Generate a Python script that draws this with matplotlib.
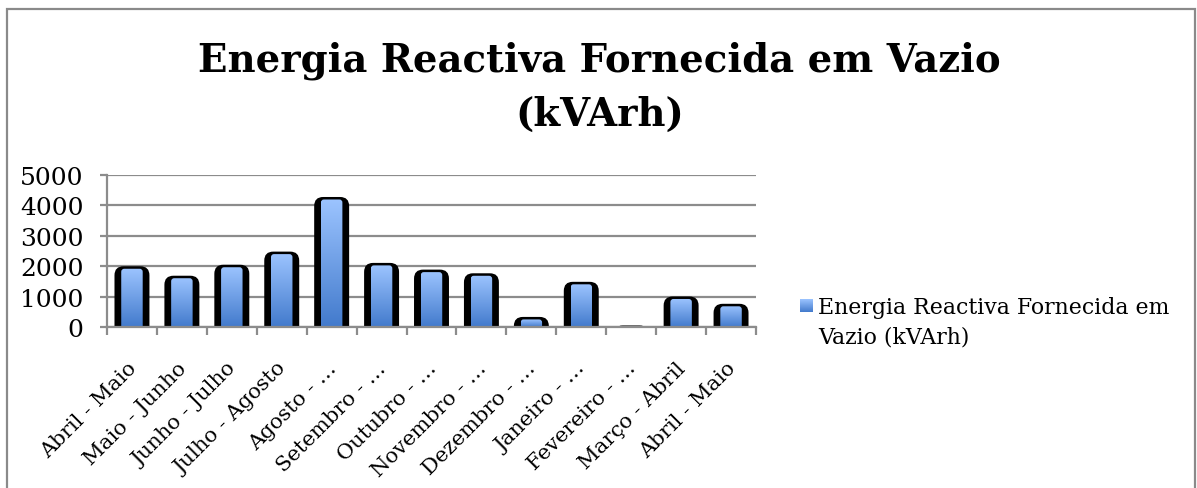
import numpy as np
import matplotlib
matplotlib.use("Agg")
import matplotlib.pyplot as plt
from matplotlib.patches import FancyBboxPatch, Rectangle
from matplotlib.transforms import ScaledTranslation

categories = ["Abril - Maio", "Maio - Junho", "Junho - Julho", "Julho - Agosto",
              "Agosto - …", "Setembro - …", "Outubro - …", "Novembro - …",
              "Dezembro - …", "Janeiro - …", "Fevereiro - …", "Março - Abril",
              "Abril - Maio"]
values = [2000, 1690, 2050, 2480, 4270, 2110, 1890, 1770, 340, 1490, 60, 1010, 770]
yticks = [0, 1000, 2000, 3000, 4000, 5000]
title = "Energia Reactiva Fornecida em Vazio\n(kVArh)"
series_name = "Energia Reactiva Fornecida em\nVazio (kVArh)"

FONT = "DejaVu Serif"
W, H = 1197, 489
fig = plt.figure(figsize=(W / 100, H / 100), dpi=100)

# outer chart border
fig.patches.append(Rectangle((7 / W, -0.01), (1195 - 7) / W, 1 - 10 / H + 0.01,
                             transform=fig.transFigure, fill=False,
                             ec="#8a8a8a", lw=1.6, zorder=0))

ax = fig.add_axes([107 / W, 1 - 328.3 / H, (756 - 107) / W, (328.3 - 175.7) / H])

top_c = np.array([156, 196, 255]) / 255
bot_c = np.array([66, 122, 204]) / 255
grad = np.linspace(0, 1, 256)[:, None, None]
grad_img = top_c[None, None, :] * (1 - grad) + bot_c[None, None, :] * grad

x = np.arange(len(values))
bars = ax.bar(x, values, width=0.7, color="none", edgecolor="none")
px_x = (756 - 107) / 13.0
px_y = (328.3 - 175.7) / 5000.0
for b in bars:
    x0, w, h = b.get_x(), b.get_width(), b.get_height()
    r = 9 / px_x
    asp = (9 / px_y) / r
    outer = FancyBboxPatch((x0, -3000), w, h + 3000,
                           boxstyle=f"round,pad=0,rounding_size={r}",
                           mutation_aspect=asp, fc="black", ec="none", zorder=3)
    ax.add_patch(outer)
    iw = 0.43
    cx = x0 + w / 2
    ih = h - 2.5 / px_y
    if ih > 0:
        ri = 3 / px_x
        inner = FancyBboxPatch((cx - iw / 2, -3000), iw, ih + 3000,
                               boxstyle=f"round,pad=0,rounding_size={ri}",
                               mutation_aspect=(3 / px_y) / ri,
                               fc="none", ec="none", zorder=4)
        ax.add_patch(inner)
        im = ax.imshow(grad_img, extent=(cx - iw / 2, cx + iw / 2, 0, ih),
                       aspect="auto", origin="upper", zorder=4, interpolation="bilinear")
        im.set_clip_path(inner)

ax.set_xlim(-0.5, len(values) - 0.5)
ax.set_ylim(0, 5000)
ax.set_aspect("auto")

ax.set_yticks(yticks)
ax.set_yticklabels([str(v) for v in yticks], fontsize=18, family=FONT)
ax.yaxis.grid(True, color="#8c8c8c", lw=1.6, zorder=1)
ax.set_axisbelow(True)
ax.tick_params(axis="y", length=5, width=1.6, color="#8c8c8c", pad=12)

ax.set_xticks(x)
ax.set_xticklabels(categories, rotation=45, ha="right", va="top",
                   rotation_mode="anchor", fontsize=15.2, family=FONT)
ax.tick_params(axis="x", which="major", length=0, pad=15)
shift = ScaledTranslation(-5 / 100, -10 / 100, fig.dpi_scale_trans)
for lbl in ax.get_xticklabels():
    lbl.set_transform(lbl.get_transform() + shift)
ax.set_xticks(np.arange(-0.5, len(values), 1), minor=True)
ax.tick_params(axis="x", which="minor", length=6, width=1.6, color="#8c8c8c")

for s in ["top", "right"]:
    ax.spines[s].set_visible(False)
for s in ["left", "bottom"]:
    ax.spines[s].set_color("#8c8c8c")
    ax.spines[s].set_linewidth(1.6)
ax.spines["bottom"].set_zorder(5)

fig.text(0.501, 1 - 42 / H, title, ha="center", va="top", fontsize=27.8,
         family=FONT, weight="bold", linespacing=1.52)

# legend
lax = fig.add_axes([800 / W, 1 - 313 / H, 13 / W, 13 / H])
lax.imshow(grad_img, extent=(0, 1, 0, 1), aspect="auto", origin="upper")
lax.axis("off")
fig.text(818 / W, 1 - 297 / H, series_name, ha="left", va="top", fontsize=15.8,
         family=FONT, linespacing=1.42)

fig.savefig("out.png", dpi=100)
